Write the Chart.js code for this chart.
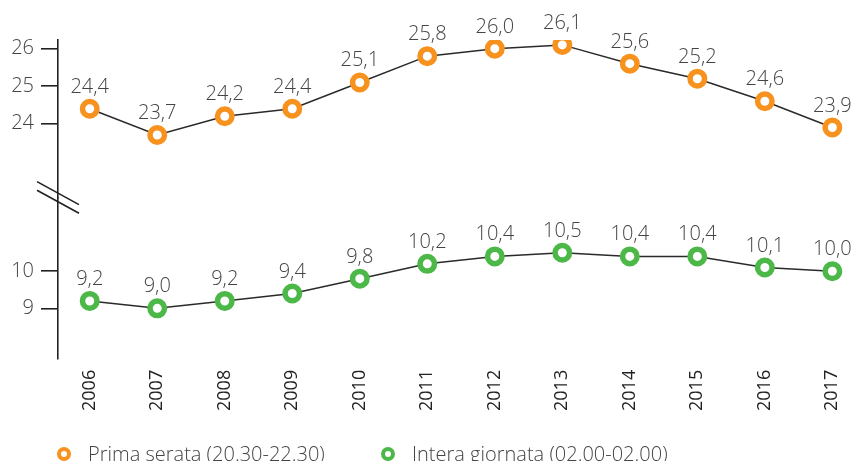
<!DOCTYPE html>
<html>
<head>
<meta charset="utf-8">
<script src="https://cdn.jsdelivr.net/npm/chart.js@4/dist/chart.umd.min.js"></script>
<style>
  html, body { margin: 0; padding: 0; background: #fff; }
  #wrap { position: relative; width: 864px; height: 461px; }
  #legend { position: absolute; left: 57px; top: 440px; display: flex; align-items: center;
            font-family: 'Open Sans', sans-serif; font-weight: 300; font-size: 20px; color: #444; }
  .item { display: flex; align-items: center; }
  .item:first-child { width: 324px; }
  .dot { width: 14px; height: 14px; box-sizing: border-box; border-radius: 50%;
         border: 4.5px solid; background: #fff; margin-right: 17px; }
</style>
</head>
<body>
<div id="wrap">
  <canvas id="c" width="864" height="461"></canvas>
  <div id="legend"></div>
</div>
<script>
const years = [2006, 2007, 2008, 2009, 2010, 2011, 2012, 2013, 2014, 2015, 2016, 2017];
const primaSerata = [24.4, 23.7, 24.2, 24.4, 25.1, 25.8, 26.0, 26.1, 25.6, 25.2, 24.6, 23.9];
const interaGiornata = [9.2, 9.0, 9.2, 9.4, 9.8, 10.2, 10.4, 10.5, 10.4, 10.4, 10.1, 10.0];
const topTicks = [24, 25, 26];
const bottomTicks = [9, 10];
const seriesLabels = ['Prima serata (20.30-22.30)', 'Intera giornata (02.00-02.00)'];
const seriesColors = ['#F7921E', '#4CB848'];

const FONT = "'Open Sans'";
const TEXT = '#444';

const dataLabels = {
  id: 'dataLabels',
  afterDatasetsDraw(chart) {
    const ctx = chart.ctx;
    ctx.save();
    ctx.font = '300 20px ' + FONT;
    ctx.fillStyle = TEXT;
    ctx.textAlign = 'center';
    ctx.textBaseline = 'alphabetic';
    chart.data.datasets.forEach((ds, di) => {
      const meta = chart.getDatasetMeta(di);
      meta.data.forEach((pt, i) => {
        const v = ds.data[i].y;
        ctx.fillText(v.toFixed(1).replace('.', ','), pt.x, pt.y - 16);
      });
    });
    ctx.restore();
  }
};

const axisBreak = {
  id: 'axisBreak',
  afterDraw(chart) {
    const s = chart.scales.yTop;
    const x = chart.chartArea.left;
    const yb = s.bottom;
    const ctx = chart.ctx;
    ctx.save();
    ctx.strokeStyle = '#222';
    ctx.lineWidth = 1.6;
    [-4.3, 4.3].forEach(off => {
      ctx.beginPath();
      ctx.moveTo(x - 21, yb + off - 11.5);
      ctx.lineTo(x + 21, yb + off + 11.5);
      ctx.stroke();
    });
    ctx.restore();
  }
};

function yScale(min, max, ticks, weight) {
  return {
    type: 'linear',
    position: 'left',
    stack: 'y',
    stackWeight: weight,
    min: min,
    max: max,
    afterBuildTicks: (scale) => { scale.ticks = ticks.map(v => ({ value: v })); },
    afterFit: (scale) => { scale.width = 58; },
    border: { display: true, color: '#222', width: 1.6 },
    grid: { display: true, drawOnChartArea: false, drawTicks: true, tickLength: 17, color: '#222', lineWidth: 1.6 },
    ticks: { padding: 7, color: TEXT, font: { family: FONT, size: 20, weight: '300' }, callback: v => String(v) }
  };
}

const chart = new Chart(document.getElementById('c'), {
  type: 'line',
  data: {
    datasets: [
      {
        label: seriesLabels[0],
        data: years.map((y, i) => ({ x: y, y: primaSerata[i] })),
        yAxisID: 'yTop',
        borderColor: '#2a2a2a', borderWidth: 1.5,
        pointRadius: 7.25, pointBorderWidth: 5.5,
        pointBorderColor: seriesColors[0], pointBackgroundColor: '#fff',
        tension: 0
      },
      {
        label: seriesLabels[1],
        data: years.map((y, i) => ({ x: y, y: interaGiornata[i] })),
        yAxisID: 'yBottom',
        borderColor: '#2a2a2a', borderWidth: 1.5,
        pointRadius: 7.25, pointBorderWidth: 5.5,
        pointBorderColor: seriesColors[1], pointBackgroundColor: '#fff',
        tension: 0
      }
    ]
  },
  options: {
    responsive: false,
    animation: false,
    layout: { padding: { left: 0, right: 2, top: 40, bottom: 47 } },
    plugins: { legend: { display: false }, tooltip: { enabled: false } },
    scales: {
      x: {
        type: 'linear',
        min: 2005.53,
        max: 2017.28,
        afterBuildTicks: (scale) => { scale.ticks = years.map(v => ({ value: v })); },
        grid: { display: false },
        border: { display: false },
        ticks: { minRotation: 90, maxRotation: 90, padding: 3, color: '#222',
                 font: { family: FONT, size: 18, weight: '400' }, callback: v => String(v) }
      },
      yBottom: yScale(7.64, 11.99, bottomTicks, 161),
      yTop: yScale(22.04, 26.23, topTicks, 157)
    }
  },
  plugins: [dataLabels, axisBreak]
});

const legend = document.getElementById('legend');
seriesLabels.forEach((lab, i) => {
  const it = document.createElement('div');
  it.className = 'item';
  const d = document.createElement('span');
  d.className = 'dot';
  d.style.borderColor = seriesColors[i];
  const t = document.createElement('span');
  t.textContent = lab;
  it.appendChild(d); it.appendChild(t);
  legend.appendChild(it);
});
</script>
</body>
</html>
